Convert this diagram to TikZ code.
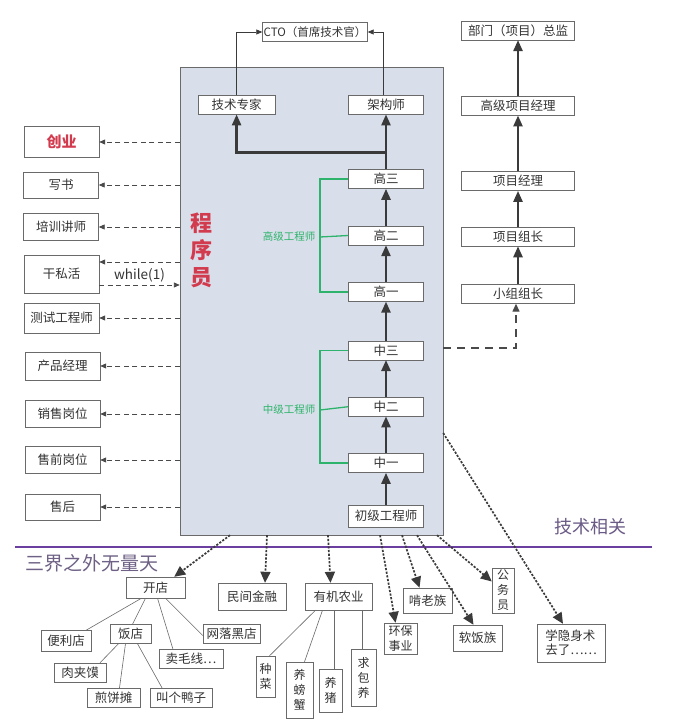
\documentclass[tikz,border=0pt]{standalone}
\usepackage{fontspec}
\newfontfamily\cjk{Noto Sans CJK SC}
\usepackage{xcolor}
\usetikzlibrary{shapes,arrows.meta,positioning}

\definecolor{panelbg}{HTML}{D9DFEA}
\definecolor{boxline}{HTML}{6A6A6A}
\definecolor{boxtext}{HTML}{333333}
\definecolor{arrowgray}{HTML}{3A3A3A}
\definecolor{dashgray}{HTML}{4A4A4A}
\definecolor{levelgreen}{HTML}{2DB36B}
\definecolor{lilac}{HTML}{6B3FA0}
\definecolor{lilactext}{HTML}{6A5A86}
\definecolor{startred}{HTML}{D23A4E}

\begin{document}
\begin{tikzpicture}[
    x=1pt, y=-1pt,
    node distance=37pt,
    box/.style={rectangle, draw=boxline, fill=white, text=boxtext, inner sep=1pt, minimum height=19pt, font=\cjk\fontsize{12.5}{14}\selectfont},
    sidebox/.style={box, minimum width=75pt},
    levelbox/.style={box, minimum width=75pt},
    pmbox/.style={box, minimum width=113pt},
    vbox/.style={box, align=center, inner sep=2pt, font=\cjk\fontsize{12}{15}\selectfont},
    panel/.style={rectangle, draw=boxline, fill=panelbg, minimum width=263pt, minimum height=468pt},
    bigarrow/.style={draw=arrowgray, line width=2.4pt, -{Triangle[length=11pt,width=9pt]}},
    thinarrow/.style={draw=arrowgray, line width=0.7pt, -{Triangle[length=6pt,width=5pt]}},
    sidearrow/.style={draw=dashgray, line width=0.9pt, dash pattern=on 5pt off 3.5pt, -{Triangle[length=6pt,width=5pt]}},
    pmarrow/.style={draw=dashgray, line width=1.3pt, dash pattern=on 8pt off 6pt, -{Triangle[length=8pt,width=7pt]}},
    dotarrow/.style={draw=arrowgray, line width=1.7pt, dash pattern=on 2.2pt off 1.5pt, -{Triangle[length=11pt,width=10pt]}},
    branch/.style={draw=boxline, line width=0.6pt},
    bracket/.style={draw=levelgreen, line width=1.3pt},
    levellabel/.style={text=levelgreen, font=\cjk\fontsize{10.5}{12}\selectfont, inner sep=1pt}
]
\useasboundingbox[fill=white] (0,0) rectangle (675,727);

% 程序员主体
\node[panel] (panel) at (311.5,301) {};
\node[text=startred, align=center, font=\cjk\bfseries\fontsize{22}{27}\selectfont] (coder) at (201,250) {程\\序\\员};

% 中间：技术路线
\node[levelbox, minimum height=22pt] (chuji) at (386,516) {初级工程师};
\node[levelbox, above=32pt of chuji] (zhong1) {中一};
\node[levelbox, above=of zhong1] (zhong2) {中二};
\node[levelbox, above=of zhong2] (zhong3) {中三};
\node[levelbox, above=39pt of zhong3] (gao1) {高一};
\node[levelbox, above=of gao1] (gao2) {高二};
\node[levelbox, above=of gao2] (gao3) {高三};
\node[levelbox, above=55pt of gao3] (jiagoushi) {架构师};
\node[box, minimum width=77pt, left=73pt of jiagoushi] (zhuanjia) {技术专家};
\node[box, minimum width=105pt, font=\cjk\fontsize{11.5}{14}\selectfont] (cto) at (315,32) {CTO（首席技术官）};

% 右侧：管理路线
\node[pmbox] (xiaozu) at (518,294) {小组组长};
\node[pmbox, above=38pt of xiaozu] (zuzhang) {项目组长};
\node[pmbox, above=36pt of zuzhang] (jingli) {项目经理};
\node[pmbox, above=56pt of jingli] (gaojipm) {高级项目经理};
\node[pmbox, above=56pt of gaojipm] (zongjian) {部门（项目）总监};

% 左侧：转行
\node[sidebox, minimum height=31pt, text=startred, font=\cjk\bfseries\fontsize{15}{17}\selectfont] (chuangye) at (61.5,142) {创业};
\node[sidebox, minimum height=26pt] (xieshu) at (61,185) {写书};
\node[sidebox, minimum height=27pt] (peixun) at (61,227) {培训讲师};
\node[sidebox, minimum height=38pt] (sihuo) at (61.5,274) {干私活};
\node[sidebox, minimum height=30pt] (ceshi) at (61.5,318) {测试工程师};
\node[sidebox, minimum height=28pt] (chanpin) at (62.5,366) {产品经理};
\node[sidebox, minimum height=27pt] (xiaoshou) at (62.5,414) {销售岗位};
\node[sidebox, minimum height=27pt] (shouqian) at (62.5,460) {售前岗位};
\node[sidebox, minimum height=26pt] (shouhou) at (62.5,507) {售后};

% 分界线
\coordinate (lineleft) at (15,547);
\coordinate (lineright) at (652,547);
\draw[draw=lilac, line width=2.6pt] (lineleft) -- (lineright);
\node[text=lilactext, font=\cjk\fontsize{18}{20}\selectfont] (jishu) at (590,527) {技术相关};
\node[text=lilactext!80!gray, font=\cjk\fontsize{19}{21}\selectfont] (sanjie) at (92,563) {三界之外无量天};

% 下方：三界之外
\node[box, minimum width=59pt, minimum height=21pt] (kaidian) at (155.5,587.5) {开店};
\node[box, minimum width=68pt, minimum height=27pt] (minjian) at (252,596.5) {民间金融};
\node[box, minimum width=67pt, minimum height=27pt] (youji) at (338.5,596.5) {有机农业};
\node[box, minimum width=50pt, minimum height=21pt] (bianli) at (66,641) {便利店};
\node[box, minimum width=41pt] (fandian) at (130.5,634) {饭店};
\node[box, minimum width=57pt] (heidian) at (231.5,633.5) {网落黑店};
\node[box, minimum width=64pt] (maomao) at (191,659) {卖毛线…};
\node[box, minimum width=52pt] (roujiamo) at (80,672.5) {肉夹馍};
\node[box, minimum width=53pt] (jianbing) at (113.5,697.5) {煎饼摊};
\node[box, minimum width=62pt] (yazi) at (181,697.5) {叫个鸭子};
\node[vbox, minimum width=19pt, minimum height=41pt] (zhongcai) at (265.5,676.5) {种\\菜};
\node[vbox, minimum width=27pt, minimum height=56pt] (pangxie) at (299.5,690) {养\\螃\\蟹};
\node[vbox, minimum width=23pt, minimum height=43pt] (yangzhu) at (330.5,690.5) {养\\猪};
\node[vbox, minimum width=25pt, minimum height=57pt] (baoyang) at (363.5,677.5) {求\\包\\养};
\node[vbox, minimum width=33pt, minimum height=31pt] (huanbao) at (400.5,638.5) {环保\\事业};
\node[box, minimum width=49pt, minimum height=25pt] (kenlao) at (427.5,600.5) {啃老族};
\node[vbox, minimum width=22pt, minimum height=45pt] (gongwu) at (503,590.5) {公\\务\\员};
\node[box, minimum width=49pt, minimum height=26pt] (ruanfan) at (477.5,638) {软饭族};
\node[box, align=left, minimum width=68pt, minimum height=38pt] (yinshen) at (571,643) {学隐身术\\去了……};

% 连接线：技术路线
\draw[bigarrow] (chuji) -- (zhong1);
\draw[bigarrow] (zhong1) -- (zhong2);
\draw[bigarrow] (zhong2) -- (zhong3);
\draw[bigarrow] (zhong3) -- (gao1);
\draw[bigarrow] (gao1) -- (gao2);
\draw[bigarrow] (gao2) -- (gao3);
\draw[bigarrow] (gao3) -- (jiagoushi);
\coordinate (fork) at ([yshift=17pt]gao3.north);
\draw[bigarrow] (fork) -| (zhuanjia.south);
\draw[thinarrow] (zhuanjia.north) |- (cto.west);
\draw[thinarrow] ([xshift=-3pt]jiagoushi.north) |- (cto.east);

% 等级括号
\node[levellabel] (gaojilabel) at (289,237) {高级工程师};
\node[levellabel] (zhongjilabel) at (289,410) {中级工程师};
\draw[bracket] (gao3.west) -| (gaojilabel.east -| 320,0) |- (gao1.west);
\draw[bracket] (gaojilabel.east -| 320,0) -- (gao2.west);
\draw[bracket] (zhong3.west) -| (zhongjilabel.east -| 320,0) |- (zhong1.west);
\draw[bracket] (zhongjilabel.east -| 320,0) -- (zhong2.west);

% 连接线：管理路线
\draw[bigarrow] (xiaozu) -- (zuzhang);
\draw[bigarrow] (zuzhang) -- (jingli);
\draw[bigarrow] (jingli) -- (gaojipm);
\draw[bigarrow] (gaojipm) -- (zongjian);
\draw[pmarrow] ([yshift=-47pt]panel.east) -| ([xshift=-2pt]xiaozu.south);

% 连接线：转行
\draw[sidearrow] (chuangye.east -| panel.west) -- (chuangye.east);
\draw[sidearrow] (xieshu.east -| panel.west) -- (xieshu.east);
\draw[sidearrow] (peixun.east -| panel.west) -- (peixun.east);
\draw[sidearrow] ([yshift=12pt]sihuo.east -| panel.west) -- ([yshift=12pt]sihuo.east);
\draw[sidearrow] ([yshift=-11pt]sihuo.east) -- node[above=-1pt, text=boxtext, font=\cjk\fontsize{13.5}{15}\selectfont] {while(1)} ([yshift=-11pt]sihuo.east -| panel.west);
\draw[sidearrow] (ceshi.east -| panel.west) -- (ceshi.east);
\draw[sidearrow] (chanpin.east -| panel.west) -- (chanpin.east);
\draw[sidearrow] (xiaoshou.east -| panel.west) -- (xiaoshou.east);
\draw[sidearrow] (shouqian.east -| panel.west) -- (shouqian.east);
\draw[sidearrow] (shouhou.east -| panel.west) -- (shouhou.east);

% 连接线：三界之外
\draw[dotarrow] ([xshift=-81.5pt]panel.south) -- ([xshift=-11pt]kaidian.north east);
\draw[dotarrow] ([xshift=-44.5pt]panel.south) -- ([xshift=13pt]minjian.north);
\draw[dotarrow] ([xshift=16.5pt]panel.south) -- ([xshift=-8pt]youji.north);
\draw[dotarrow] ([xshift=68.5pt]panel.south) -- ([xshift=-5pt]huanbao.north);
\draw[dotarrow] ([xshift=90.5pt]panel.south) -- ([xshift=-8pt]kenlao.north);
\draw[dotarrow] ([xshift=105.5pt]panel.south) -- ([xshift=-4pt]ruanfan.north);
\draw[dotarrow] ([xshift=125.5pt]panel.south) -- ([yshift=9pt]gongwu.west);
\draw[dotarrow] ([yshift=-132pt]panel.east) -- ([xshift=-8pt]yinshen.north);

% 分支
\draw[branch] ([xshift=-14pt]kaidian.south) -- ([xshift=20pt]bianli.north);
\draw[branch] ([xshift=-10pt]kaidian.south) -- ([xshift=2pt]fandian.north);
\draw[branch] ([xshift=2pt]kaidian.south) -- ([xshift=-18pt]maomao.north);
\draw[branch] ([xshift=10pt]kaidian.south) -- ([yshift=-2pt]heidian.west);
\draw[branch] ([xshift=-12pt]fandian.south) -- ([xshift=20pt]roujiamo.north);
\draw[branch] ([xshift=-5pt]fandian.south) -- ([xshift=6pt]jianbing.north);
\draw[branch] ([xshift=7pt]fandian.south) -- ([xshift=-19pt]yazi.north);
\draw[branch] ([xshift=-23pt]youji.south) -- ([xshift=4pt]zhongcai.north);
\draw[branch] ([xshift=-16pt]youji.south) -- ([xshift=5pt]pangxie.north);
\draw[branch] ([xshift=-4.5pt]youji.south) -- ([xshift=3.5pt]yangzhu.north);
\draw[branch] ([xshift=23.5pt]youji.south) -- ([xshift=-1.5pt]baoyang.north);

\end{tikzpicture}
\end{document}
